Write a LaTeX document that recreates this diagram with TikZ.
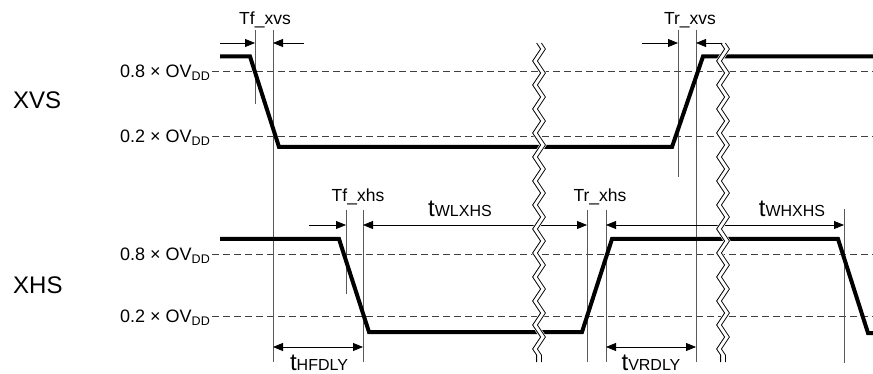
\documentclass[tikz,border=0pt]{standalone}
\usepackage{fontspec}
\setmainfont{Liberation Sans}
\usetikzlibrary{arrows.meta,decorations.pathmorphing}
\newcommand\ovddlbl{OV\raisebox{-3pt}{\fontsize{12.5}{13}\selectfont DD}}
\newcommand\bigsub[2]{{\fontsize{24}{24}\selectfont #1}{\fontsize{16}{16}\selectfont #2}}
\begin{document}
\begin{tikzpicture}[x=1pt,y=-1pt,
  sig/.style={line width=4pt, line join=miter},
  thr/.style={dash pattern=on 7pt off 4pt, line width=0.9pt, black!75},
  vln/.style={line width=0.9pt, black!65},
  dimarrow/.style={line width=0.8pt, -{Triangle[length=10pt,width=8pt]}},
  ddimarrow/.style={line width=0.8pt, {Triangle[length=10pt,width=8pt]}-{Triangle[length=10pt,width=8pt]}},
  lbl/.style={inner sep=0pt, anchor=base, font=\fontsize{17.5}{20}\selectfont},
  thl/.style={inner sep=0pt, anchor=base east, font=\fontsize{18}{20}\selectfont},
  signame/.style={inner sep=0pt, anchor=base west, font=\fontsize{24}{26}\selectfont},
  brk/.style={decorate, decoration={zigzag, segment length=24pt, amplitude=4pt}},
]
\useasboundingbox (0,0) rectangle (873,374);

% signal names
\node[signame] (xvs) at (13,109) {XVS};
\node[signame] (xhs) at (13,293) {XHS};

% threshold labels
\node[thl] (v08) at (210,77.5) {0.8 × \ovddlbl};
\node[thl] (v02) at (210,142.5) {0.2 × \ovddlbl};
\node[thl] (h08) at (210,260.5) {0.8 × \ovddlbl};
\node[thl] (h02) at (210,322.5) {0.2 × \ovddlbl};

% threshold lines
\coordinate (dv08a) at (212,71);  \coordinate (dv08b) at (873,71);
\coordinate (dv02a) at (212,136); \coordinate (dv02b) at (873,136);
\coordinate (dh08a) at (212,254); \coordinate (dh08b) at (873,254);
\coordinate (dh02a) at (212,316); \coordinate (dh02b) at (873,316);
\draw[thr] (dv08a) -- (dv08b);
\draw[thr] (dv02a) -- (dv02b);
\draw[thr] (dh08a) -- (dh08b);
\draw[thr] (dh02a) -- (dh02b);

% vertical reference lines
\coordinate (vAt) at (255,30);  \coordinate (vAb) at (255,104);
\coordinate (vBt) at (273,30);  \coordinate (vBb) at (273,362);
\coordinate (vCt) at (678,30);  \coordinate (vCb) at (678,177);
\coordinate (vDt) at (696,30);  \coordinate (vDb) at (696,362);
\coordinate (vEt) at (346,210); \coordinate (vEb) at (346,294);
\coordinate (vFt) at (363,210); \coordinate (vFb) at (363,362);
\coordinate (vGt) at (587,210); \coordinate (vGb) at (587,362);
\coordinate (vHt) at (606,210); \coordinate (vHb) at (606,362);
\coordinate (vIt) at (844,209); \coordinate (vIb) at (844,363);
\foreach \v in {A,B,C,D,E,F,G,H,I} \draw[vln] (v\v t) -- (v\v b);

% signals
\draw[sig] (220,56.5) -- (250,56.5) -- (279,147) -- (672,147) -- (703,56.5) -- (873,56.5);
\draw[sig] (220,239) -- (339,239) -- (369,332) -- (582,332) -- (612,239) -- (838,239) -- (868,333) -- (873,333);

% timing arrows
\coordinate (a1) at (220,43); \coordinate (a2) at (304,43);
\draw[dimarrow] (a1) -- (vAt |- a1);
\draw[dimarrow] (a2) -- (vBt |- a2);
\coordinate (a3) at (642,43); \coordinate (a4) at (725,43);
\draw[dimarrow] (a3) -- (vCt |- a3);
\draw[dimarrow] (a4) -- (vDt |- a4);
\coordinate (a5) at (309,225);
\draw[dimarrow] (a5) -- (vEt |- a5);
\draw[ddimarrow] (vFt |- a5) -- (vGt |- a5);
\draw[ddimarrow] (vHt |- a5) -- (vIt |- a5);
\coordinate (a6) at (0,347);
\draw[ddimarrow] (vBt |- a6) -- (vFt |- a6);
\draw[ddimarrow] (vHt |- a6) -- (vDt |- a6);

% labels
\node[lbl] (tfxvs) at (265,25) {Tf\_xvs};
\node[lbl] (trxvs) at (690,25) {Tr\_xvs};
\node[lbl] (tfxhs) at (358,201.5) {Tf\_xhs};
\node[lbl] (trxhs) at (600,201.5) {Tr\_xhs};
\node[inner sep=0pt, anchor=base] (twl) at (460,216.5) {\bigsub{t}{WLXHS}};
\node[inner sep=0pt, anchor=base] (twh) at (792,216.5) {\bigsub{t}{WHXHS}};
\node[inner sep=0pt, anchor=base] (thf) at (319,370) {\bigsub{t}{HFDLY}};
\node[inner sep=0pt, anchor=base] (tvr) at (651,370) {\bigsub{t}{VRDLY}};

% break marks
\coordinate (b1t) at (539,43); \coordinate (b1b) at (539,362);
\coordinate (b2t) at (723,43); \coordinate (b2b) at (723,362);
\foreach \b in {b1,b2} {
  \draw[brk, white, line width=6pt] (\b t) -- (\b b);
  \draw[brk, line width=0.8pt] ([xshift=-2.4pt]\b t) -- ([xshift=-2.4pt]\b b);
  \draw[brk, line width=0.8pt] ([xshift=2.4pt]\b t) -- ([xshift=2.4pt]\b b);
}
\end{tikzpicture}
\end{document}
